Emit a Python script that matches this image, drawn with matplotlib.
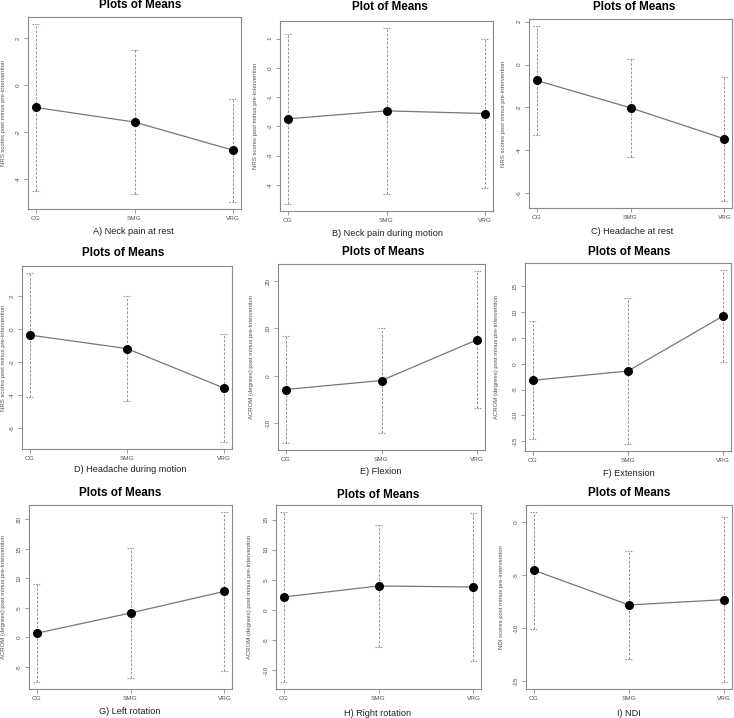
import numpy as np
import matplotlib
matplotlib.use("Agg")
from matplotlib import pyplot as plt
from matplotlib.ticker import MultipleLocator

plt.rcParams['font.family'] = ['Liberation Sans', 'DejaVu Sans']
plt.rcParams['axes.unicode_minus'] = False

groups = ['CG', 'SMG', 'VRG']

titles = ['Plots of Means', 'Plot of Means', 'Plots of Means',
          'Plots of Means', 'Plots of Means', 'Plots of Means',
          'Plots of Means', 'Plots of Means', 'Plots of Means']
subtitles = ['A) Neck pain at rest', 'B) Neck pain during motion', 'C) Headache at rest',
             'D) Headache during motion', 'E) Flexion', 'F) Extension',
             'G) Left rotation', 'H) Right rotation', 'I) NDI']
nrs_label = 'NRS scores post minus pre-intervention'
acrom_label = 'ACROM (degrees) post minus pre-intervention'
ndi_label = 'NDI scores post minus pre-intervention'
ylabels = [nrs_label, nrs_label, nrs_label, nrs_label,
           acrom_label, acrom_label, acrom_label, acrom_label, ndi_label]

# means and standard deviations
means_a = [-0.94, -1.56, -2.76]
sd_a = [3.55, 3.05, 2.20]
means_b = [-1.74, -1.47, -1.56]
sd_b = [2.91, 2.83, 2.55]
means_c = [-0.74, -2.02, -3.47]
sd_c = [2.54, 2.30, 2.90]
means_d = [-0.38, -1.20, -3.60]
sd_d = [3.78, 3.20, 3.28]
means_e = [-2.89, -0.99, 7.62]
sd_e = [11.3, 11.1, 14.5]
means_f = [-3.22, -1.42, 9.27]
sd_f = [11.45, 14.15, 8.9]
means_g = [0.68, 4.13, 7.80]
sd_g = [8.3, 11.1, 13.5]
means_h = [2.17, 4.00, 3.83]
sd_h = [14.15, 10.1, 12.35]
means_i = [-4.53, -7.81, -7.31]
sd_i = [5.5, 5.12, 7.78]

all_means = [means_a, means_b, means_c, means_d, means_e, means_f, means_g, means_h, means_i]
all_sds = [sd_a, sd_b, sd_c, sd_d, sd_e, sd_f, sd_g, sd_h, sd_i]
tick_steps = [2, 1, 2, 2, 10, 5, 5, 5, 5]

# layout in pixels: box (left, top, right, bottom), title (x, y), subtitle (x, y), ylabel x
W, H = 734, 718
boxes = [(28, 17, 241, 209), (280, 21, 493, 211), (529, 19, 732, 208),
         (22, 266, 232, 449), (278, 264, 485, 450), (525, 263, 731, 451),
         (29, 505, 232, 689), (276, 505, 481, 689), (526, 505, 732, 689)]
title_pos = [(140, 5), (390, 7), (634, 7),
             (123, 253), (383, 252), (629, 252),
             (120, 493), (378, 495), (629, 493)]
sub_pos = [(133, 231), (388, 233), (632, 232),
           (130, 470), (381, 472), (629, 473),
           (130, 711), (378, 713), (629, 713)]
ylab_x = [4, 255, 504, 4, 252, 497, 4, 250, 501]

box_col = '#8a8a8a'
line_col = '#777777'
err_col = '#999999'
text_col = '#505050'

fig = plt.figure(figsize=(W / 100, H / 100), dpi=100)

for k in range(9):
    L, T, R, B = boxes[k]
    ax = fig.add_axes([L / W, 1 - B / H, (R - L) / W, (B - T) / H])
    x = np.arange(len(groups))
    m = np.array(all_means[k])
    s = np.array(all_sds[k])

    ax.vlines(x, m - s, m + s, colors=err_col, linewidth=0.75, linestyles=(0, (2.5, 1.5)))
    ax.hlines(m + s, x - 0.04, x + 0.04, colors=err_col, linewidth=0.75, linestyles=(0, (1.5, 1)))
    ax.hlines(m - s, x - 0.04, x + 0.04, colors=err_col, linewidth=0.75, linestyles=(0, (1.5, 1)))
    ax.plot(x, m, color=line_col, linewidth=0.9, zorder=3)
    ax.plot(x, m, 'o', color='black', markersize=5.5, zorder=4)

    n = len(groups) - 1
    ax.set_xlim(-0.04 * n, n * 1.04)
    ax.margins(y=0.04)
    ax.set_xticks(x)
    ax.set_xticklabels(groups)
    ax.yaxis.set_major_locator(MultipleLocator(tick_steps[k]))

    for sp in ax.spines.values():
        sp.set_color(box_col)
        sp.set_linewidth(0.8)
    ax.tick_params(length=3, width=0.6, color=box_col, labelsize=4.6,
                   labelcolor=text_col, pad=2)
    ax.tick_params(axis='y', pad=2.5)
    for lab in ax.get_yticklabels():
        lab.set_rotation(90)
        lab.set_va('center')

    fig.text(title_pos[k][0] / W, 1 - title_pos[k][1] / H, titles[k],
             ha='center', va='center', fontsize=8.4, fontweight='bold')
    fig.text(sub_pos[k][0] / W, 1 - sub_pos[k][1] / H, subtitles[k],
             ha='center', va='center', fontsize=6.6, color='#222222')
    fig.text(ylab_x[k] / W, 1 - (T + B) / 2 / H, ylabels[k], rotation=90,
             ha='center', va='center', fontsize=4.3, color=text_col)

plt.savefig('out.png', dpi=100)
